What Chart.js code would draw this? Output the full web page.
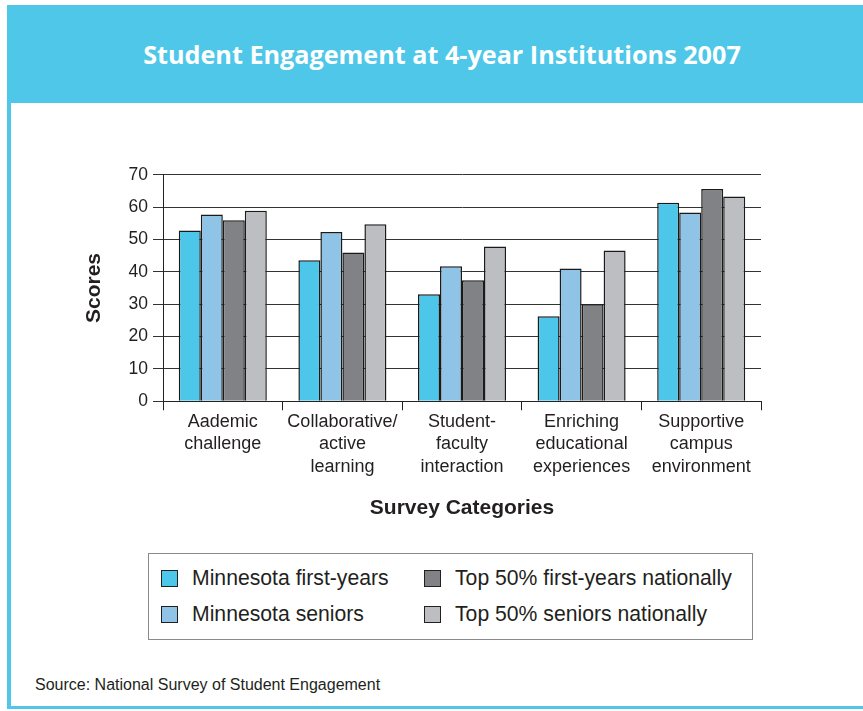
<!DOCTYPE html>
<html>
<head>
<meta charset="utf-8">
<script src="https://cdn.jsdelivr.net/npm/chart.js@4.4.0/dist/chart.umd.min.js"></script>
<style>
    html, body { margin: 0; padding: 0; background: #fff; }
    body { width: 863px; height: 711px; position: relative; overflow: hidden; font-family: 'Liberation Sans', Arial, sans-serif; }
    #header {
        position: absolute; left: 7px; top: 5px; width: 856px; height: 98px;
        background: #4ec7e9; color: #fff; box-sizing: border-box; padding-left: 14px;
        font-family: 'Open Sans', sans-serif; font-weight: 700; font-size: 25.2px;
        display: flex; align-items: center; justify-content: center;
    }
    #leftBorder { position: absolute; left: 7px; top: 103px; width: 4px; height: 606px; background: #4ec7e9; }
    #bottomBorder { position: absolute; left: 7px; top: 706px; width: 856px; height: 3px; background: #4ec7e9; }
    #chartBox { position: absolute; left: 0; top: 150px; width: 800px; height: 380px; }
    #legend {
        position: absolute; left: 148px; top: 553px; width: 605px; height: 87px;
        border: 1px solid #8a8a8a; box-sizing: border-box;
    }
    .item { position: absolute; display: flex; align-items: center; font-size: 21.2px; color: #231f20; white-space: nowrap; }
    .swatch { width: 15px; height: 15px; border: 1px solid #231f20; margin-right: 14px; }
    #source {
        position: absolute; left: 35px; top: 676px;
        font-family: 'Liberation Sans', sans-serif;
        font-size: 16px; color: #231f20;
    }
</style>
</head>
<body>
<div id="header">Student Engagement at 4-year Institutions 2007</div>
<div id="leftBorder"></div>
<div id="bottomBorder"></div>
<div id="chartBox"><canvas id="barChart"></canvas></div>
<div id="legend"></div>
<div id="source">Source: National Survey of Student Engagement</div>

<script>
const CATEGORIES = [
    ['Aademic', 'challenge'],
    ['Collaborative/', 'active', 'learning'],
    ['Student-', 'faculty', 'interaction'],
    ['Enriching', 'educational', 'experiences'],
    ['Supportive', 'campus', 'environment']
];
const SERIES_NAMES = [
    'Minnesota first-years',
    'Minnesota seniors',
    'Top 50% first-years nationally',
    'Top 50% seniors nationally'
];
const mnFirstYears = [52.8, 43.6, 33.1, 26.3, 61.3];
const mnSeniors = [57.7, 52.3, 41.7, 41.0, 58.3];
const topFirstYears = [55.9, 46.0, 37.4, 30.0, 65.6];
const topSeniors = [58.9, 54.7, 47.8, 46.6, 63.3];
const Y_TICKS = [0, 10, 20, 30, 40, 50, 60, 70];

const COLORS = ['#4cc7e9', '#90c4e6', '#808285', '#bcbec1'];
const TEXT = '#231f20';

const datasets = [mnFirstYears, mnSeniors, topFirstYears, topSeniors].map((values, i) => ({
    label: SERIES_NAMES[i],
    data: values,
    backgroundColor: COLORS[i],
    borderColor: '#1a1a1a',
    borderWidth: 1.5,
    barPercentage: 1.0,
    categoryPercentage: 0.736
}));

const ctx = document.getElementById('barChart').getContext('2d');
const barChart = new Chart(ctx, {
    type: 'bar',
    data: {
        labels: CATEGORIES,
        datasets: datasets
    },
    options: {
        responsive: true,
        maintainAspectRatio: false,
        animation: false,
        layout: {
            padding: { left: 73, right: 39, top: 24.7, bottom: 0 }
        },
        plugins: {
            legend: { display: false },
            tooltip: { enabled: false }
        },
        scales: {
            x: {
                afterFit: function(scale) { scale.height = 128.7; },
                grid: {
                    display: true,
                    drawOnChartArea: false,
                    drawTicks: true,
                    tickLength: 9,
                    color: '#222'
                },
                border: { display: true, color: '#222', width: 1 },
                ticks: {
                    color: TEXT,
                    padding: 0,
                    maxRotation: 0,
                    autoSkip: false,
                    font: { family: "'Liberation Sans', Arial, sans-serif", size: 18, lineHeight: 1.26 }
                },
                title: {
                    display: true,
                    text: 'Survey Categories',
                    color: TEXT,
                    padding: { top: 0, bottom: 9 },
                    font: { family: "'Liberation Sans', Arial, sans-serif", size: 21, weight: 'bold', lineHeight: 1.2 }
                }
            },
            y: {
                min: 0,
                max: 70,
                afterFit: function(scale) { scale.width = 90; },
                afterBuildTicks: function(scale) {
                    scale.ticks = Y_TICKS.map(v => ({ value: v }));
                },
                grid: {
                    color: '#333',
                    lineWidth: 1,
                    tickLength: 10,
                    drawTicks: true
                },
                border: { display: true, color: '#222', width: 1 },
                ticks: {
                    color: TEXT,
                    padding: 5,
                    font: { family: "'Liberation Sans', Arial, sans-serif", size: 17.5 }
                },
                title: {
                    display: true,
                    text: 'Scores',
                    color: TEXT,
                    padding: { top: 9, bottom: 0 },
                    font: { family: "'Liberation Sans', Arial, sans-serif", size: 21, weight: 'bold', lineHeight: 1.2 }
                }
            }
        }
    }
});

// legend in two columns: first-years on top row, seniors below
const legendEl = document.getElementById('legend');
barChart.data.datasets.forEach((ds, i) => {
    const col = Math.floor(i / 2);
    const row = i % 2;
    const item = document.createElement('div');
    item.className = 'item';
    item.style.left = (col === 0 ? 12 : 275) + 'px';
    item.style.top = (row === 0 ? 12 : 48) + 'px';
    const sw = document.createElement('span');
    sw.className = 'swatch';
    sw.style.background = ds.backgroundColor;
    item.appendChild(sw);
    item.appendChild(document.createTextNode(ds.label));
    legendEl.appendChild(item);
});
</script>
</body>
</html>
